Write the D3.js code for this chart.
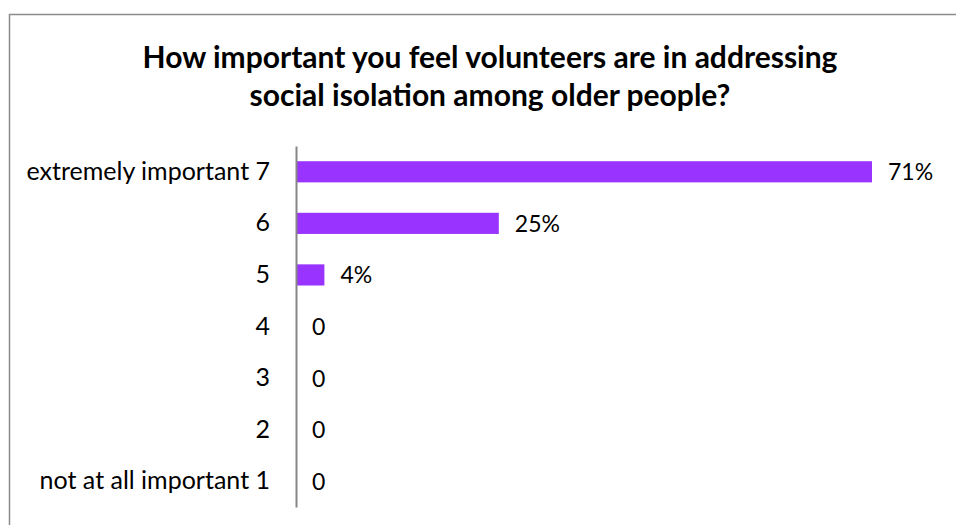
<!DOCTYPE html>
<html>
<head>
<meta charset="utf-8">
<script src="https://cdn.jsdelivr.net/npm/d3@7"></script>
<style>
  body { margin: 0; background: #fff; }
  text { font-family: Lato, "Open Sans", sans-serif; fill: #000; }
</style>
</head>
<body>
<svg id="chart"></svg>
<script>
const categories = ['extremely important 7', '6', '5', '4', '3', '2', 'not at all important 1'];
const values = [0.71, 0.25, 0.035, 0, 0, 0, 0];
const valueLabels = ['71%', '25%', '4%', '0', '0', '0', '0'];
const titleLines = ['How important you feel volunteers are in addressing', 'social isolation among older people?'];

const width = 956;
const height = 525;

const svg = d3.select('#chart')
    .attr('width', width)
    .attr('height', height);

// chart frame (runs off the right and bottom edge)
svg.append('rect')
    .attr('x', 9.5)
    .attr('y', 14.5)
    .attr('width', 1000)
    .attr('height', 600)
    .attr('fill', 'none')
    .attr('stroke', '#8c8c8c')
    .attr('stroke-width', 1.5);

svg.append('text')
    .attr('x', 490)
    .attr('text-anchor', 'middle')
    .style('font-weight', 'bold')
    .style('font-size', '30px')
  .selectAll('tspan')
    .data(titleLines)
  .enter().append('tspan')
    .attr('x', 490)
    .attr('y', (d, i) => 68 + i * 38)
    .text(d => d);

const y = d3.scaleBand()
    .domain(categories)
    .range([146, 507])
    .paddingInner(0.59)
    .paddingOuter(0.295);

const x = d3.scaleLinear()
    .domain([0, 0.71])
    .range([296, 872]);

svg.selectAll('.bar')
    .data(values)
  .enter().append('rect')
    .attr('class', 'bar')
    .attr('x', x(0))
    .attr('y', (d, i) => y(categories[i]))
    .attr('width', d => x(d) - x(0))
    .attr('height', y.bandwidth())
    .attr('fill', '#9933ff');

const axis = svg.append('g')
    .attr('transform', `translate(${x(0)},0)`)
    .call(d3.axisLeft(y).tickSize(0).tickPadding(26));

axis.select('.domain')
    .attr('stroke', '#868686')
    .attr('stroke-width', 2);

axis.selectAll('.tick text')
    .style('font-size', '25px')
    .style('font-family', 'Lato, "Open Sans", sans-serif')
    .attr('fill', '#000');

svg.selectAll('.val')
    .data(values)
  .enter().append('text')
    .attr('class', 'val')
    .attr('x', d => x(d) + 16)
    .attr('y', (d, i) => y(categories[i]) + y.bandwidth() / 2)
    .attr('dy', '0.37em')
    .style('font-size', '23px')
    .text((d, i) => valueLabels[i]);
</script>
</body>
</html>
